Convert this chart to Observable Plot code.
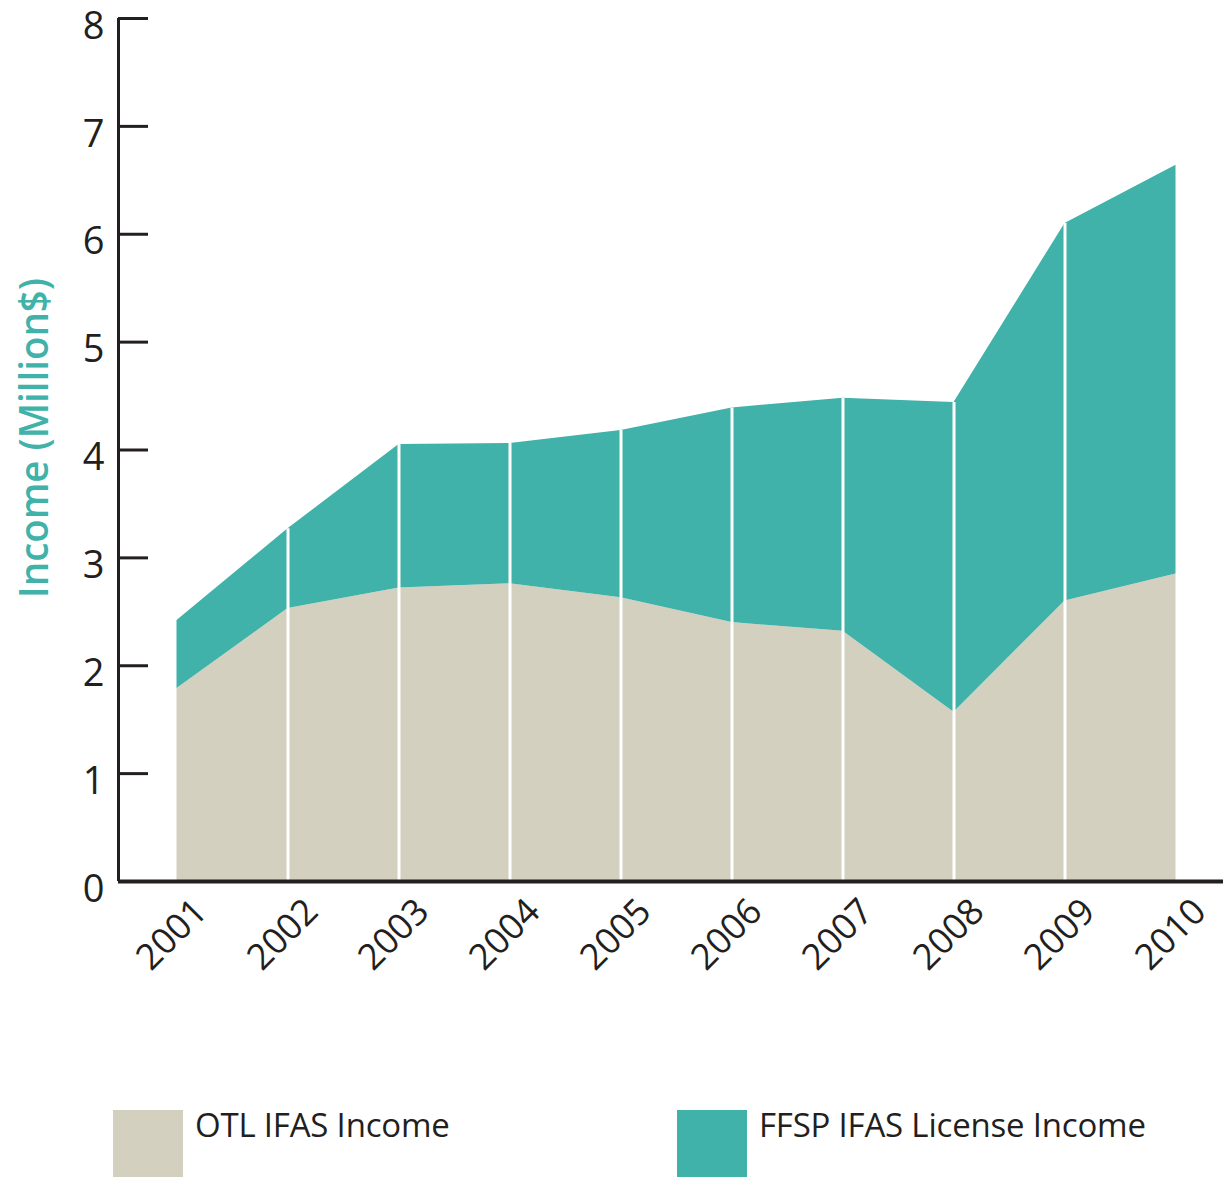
<!DOCTYPE html>
<html>
<head>
<meta charset="utf-8">
<script src="https://cdn.jsdelivr.net/npm/d3@7"></script>
<script src="https://cdn.jsdelivr.net/npm/@observablehq/plot@0.6"></script>
<style>
  html, body { margin: 0; padding: 0; background: #fff; }
  #wrap { position: relative; width: 1223px; height: 1178px; overflow: hidden; }
  .legend-item { position: absolute; top: 1110px; }
  .swatch { position: absolute; left: 0; top: 0; width: 70px; height: 67px; }
  .ltext { position: absolute; top: -8px; white-space: nowrap; font-family: "Open Sans", sans-serif; font-size: 33px; color: #231F20; letter-spacing: -0.2px; }
</style>
</head>
<body>
<div id="wrap"></div>
<script>
const years = [2001, 2002, 2003, 2004, 2005, 2006, 2007, 2008, 2009, 2010];
const otlIncome  = [1.79, 2.53, 2.72, 2.76, 2.63, 2.40, 2.32, 1.57, 2.60, 2.85];
const ffspIncome = [0.63, 0.74, 1.33, 1.30, 1.55, 1.99, 2.16, 2.87, 3.50, 3.79];
const seriesNames = ["OTL IFAS Income", "FFSP IFAS License Income"];
const seriesColors = ["#D3D0C0", "#40B2A9"];
const yTicks = [0, 1, 2, 3, 4, 5, 6, 7, 8];
const yLabel = "Income (Million$)";

const long = [];
years.forEach((yr, i) => {
  long.push({year: yr, series: seriesNames[0], value: otlIncome[i]});
  long.push({year: yr, series: seriesNames[1], value: ffspIncome[i]});
});
const totals = years.map((yr, i) => ({year: yr, total: otlIncome[i] + ffspIncome[i]}));

const W = 1223, H = 1000;
const mL = 118, mR = 0, mT = 18, mB = H - 881;
const px = 111; // pixels per year
const xMin = 2001 - 58.5 / px;
const xMax = 2010 + (W - 1175.5) / px;
const tickLen = 30 / px;
const dark = "#231F20";

const chart = Plot.plot({
  width: W, height: H,
  marginLeft: mL, marginRight: mR, marginTop: mT, marginBottom: mB,
  x: {type: "linear", domain: [xMin, xMax], axis: null},
  y: {domain: [0, 8], axis: null},
  color: {domain: seriesNames, range: seriesColors},
  style: {background: "white", overflow: "visible"},
  marks: [
    Plot.areaY(long, Plot.stackY({x: "year", y: "value", z: "series", fill: "series", order: null})),
    Plot.ruleX(totals.slice(1, -1), {x: "year", y1: 0, y2: "total", stroke: "white", strokeWidth: 3}),
    Plot.ruleX([xMin], {y1: 0, y2: 8, stroke: dark, strokeWidth: 3}),
    Plot.ruleY(yTicks.slice(1), {y: d => d, x1: xMin, x2: xMin + tickLen, stroke: dark, strokeWidth: 3}),
    Plot.ruleY([0], {x1: xMin, x2: xMax, stroke: dark, strokeWidth: 4}),
    Plot.text(yTicks, {x: xMin, y: d => d, text: d => String(d), textAnchor: "end", dx: -14, dy: 8,
      fontSize: 38, fill: dark, fontFamily: "Open Sans, sans-serif"}),
    Plot.text(years, {x: d => d, y: 0, text: d => String(d), textAnchor: "end", rotate: -45, dx: 24, dy: 24,
      fontSize: 36, fill: dark, fontFamily: "Open Sans, sans-serif"}),
    Plot.text([yLabel], {frameAnchor: "left", textAnchor: "middle", text: d => d, rotate: -90, dx: -83, dy: -12,
      fontSize: 40, fontWeight: 600, fill: "#40B2A9", fontFamily: "Open Sans, sans-serif", className: "ylab"})
  ]
});

d3.select(chart).selectAll(".ylab text")
  .attr("textLength", 320).attr("lengthAdjust", "spacingAndGlyphs");

const wrap = document.getElementById("wrap");
wrap.appendChild(chart);

const legendLefts = [113, 677];
seriesNames.forEach((name, i) => {
  const item = document.createElement("div");
  item.className = "legend-item";
  item.style.left = legendLefts[i] + "px";
  const sw = document.createElement("div");
  sw.className = "swatch";
  sw.style.background = seriesColors[i];
  const tx = document.createElement("div");
  tx.className = "ltext";
  tx.style.left = "82px";
  tx.textContent = name;
  item.appendChild(sw);
  item.appendChild(tx);
  wrap.appendChild(item);
});
</script>
</body>
</html>
